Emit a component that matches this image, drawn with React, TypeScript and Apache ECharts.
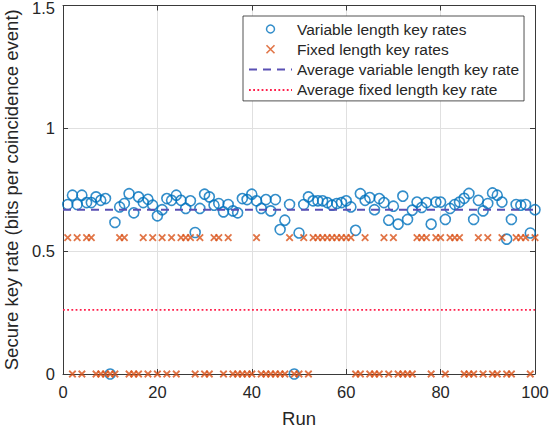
import React, { useEffect, useRef } from "react";
import * as echarts from "echarts";

// ---- Data ----
const runs = [
  1, 2, 3, 4, 5, 6, 7, 8, 9, 10,
  11, 12, 13, 14, 15, 16, 17, 18, 19, 20,
  21, 22, 23, 24, 25, 26, 27, 28, 29, 30,
  31, 32, 33, 34, 35, 36, 37, 38, 39, 40,
  41, 42, 43, 44, 45, 46, 47, 48, 49, 50,
  51, 52, 53, 54, 55, 56, 57, 58, 59, 60,
  61, 62, 63, 64, 65, 66, 67, 68, 69, 70,
  71, 72, 73, 74, 75, 76, 77, 78, 79, 80,
  81, 82, 83, 84, 85, 86, 87, 88, 89, 90,
  91, 92, 93, 94, 95, 96, 97, 98, 99, 100,
];

const variableRates = [
  0.690, 0.728, 0.690, 0.728, 0.698, 0.698, 0.721, 0.707, 0.714, 0,
  0.617, 0.680, 0.694, 0.734, 0.656, 0.721, 0.698, 0.711, 0.687, 0.644,
  0.669, 0.714, 0.707, 0.728, 0.707, 0.674, 0.705, 0.576, 0.674, 0.732,
  0.721, 0.687, 0.694, 0.660, 0.690, 0.664, 0.656, 0.714, 0.710, 0.732,
  0.705, 0.674, 0.710, 0.664, 0.710, 0.588, 0.626, 0.690, 0, 0.574,
  0.690, 0.721, 0.705, 0.705, 0.705, 0.698, 0.687, 0.694, 0.698, 0.705,
  0.680, 0.585, 0.734, 0.707, 0.718, 0.669, 0.714, 0.698, 0.626, 0.683,
  0.610, 0.724, 0.629, 0.667, 0.700, 0.678, 0.698, 0.610, 0.700, 0.700,
  0.629, 0.674, 0.690, 0.700, 0.715, 0.735, 0.629, 0.707, 0.664, 0.694,
  0.737, 0.728, 0.700, 0.549, 0.629, 0.690, 0.687, 0.690, 0.574, 0.669,
];

const fixedRates = [
  0.555, 0, 0.555, 0, 0.555, 0.555, 0, 0, 0, 0,
  0, 0.555, 0.555, 0, 0, 0, 0.555, 0, 0.555, 0,
  0.555, 0, 0.555, 0, 0.555, 0.555, 0.555, 0, 0.555, 0,
  0, 0.555, 0.555, 0, 0.555, 0, 0, 0, 0, 0,
  0.555, 0, 0, 0, 0, 0, 0, 0.555, 0, 0,
  0.555, 0, 0.555, 0.555, 0.555, 0.555, 0.555, 0.555, 0.555, 0.555,
  0.555, 0, 0, 0.555, 0, 0, 0, 0.555, 0, 0.555,
  0, 0, 0, 0, 0.555, 0.555, 0.555, 0, 0.555, 0.555,
  0, 0.555, 0.555, 0.555, 0, 0, 0, 0.555, 0, 0.555,
  0, 0, 0.555, 0, 0, 0.555, 0.555, 0.555, 0, 0.555,
];

const avgRange = [0, 100];
const avgVariableRate = 0.669;
const avgFixedRate = 0.261;

const seriesNames = [
  "Variable length key rates",
  "Fixed length key rates",
  "Average variable length key rate",
  "Average fixed length key rate",
];

const FONT = "'Liberation Sans', Arial, Helvetica, sans-serif";
const TEXT = "#262626";
const AXIS = "#3a3a3a";
const BLUE = "#0072BD";
const ORANGE = "#D95319";
const PURPLE = "#5a50b4";
const RED = "#ff1f4b";
const CROSS = "path://M0,0L10,10M10,0L0,10";
const HIDDEN = { color: "rgba(0,0,0,0)", borderColor: "rgba(0,0,0,0)", borderWidth: 0, opacity: 0 };
const Y_MAX = 1.5;

export default function App() {
  const ref = useRef<HTMLDivElement>(null);

  useEffect(() => {
    if (!ref.current) return;
    const chart = echarts.init(ref.current, undefined, { renderer: "svg" });

    const varData = runs.map((r, i) => [r, variableRates[i]]);
    const fixData = runs.map((r, i) => [r, fixedRates[i]]);
    const avgVarData = avgRange.map((x) => [x, avgVariableRate]);
    const avgFixData = avgRange.map((x) => [x, avgFixedRate]);

    const mirrorX = {
      type: "value",
      min: 0,
      max: 100,
      interval: 20,
      position: "top",
      axisLine: { show: true, onZero: false, lineStyle: { color: AXIS, width: 1 } },
      axisTick: { show: true, inside: true, length: 5, lineStyle: { color: AXIS } },
      axisLabel: { show: false },
      splitLine: { show: false },
    };
    const mirrorY = {
      type: "value",
      min: 0,
      max: Y_MAX,
      interval: 0.5,
      position: "right",
      axisLine: { show: true, onZero: false, lineStyle: { color: AXIS, width: 1 } },
      axisTick: { show: true, inside: true, length: 5, lineStyle: { color: AXIS } },
      axisLabel: { show: false },
      splitLine: { show: false },
    };

    chart.setOption({
      animation: false,
      backgroundColor: "#ffffff",
      textStyle: { fontFamily: FONT },
      grid: {
        left: 63,
        right: 17,
        top: 5.5,
        bottom: 58,
        containLabel: false,
        outerBoundsMode: "none",
      },
      xAxis: [
        {
          type: "value",
          min: 0,
          max: 100,
          interval: 20,
          position: "bottom",
          name: "Run",
          nameLocation: "middle",
          nameGap: 35,
          nameTextStyle: { fontSize: 18.5, color: TEXT, fontFamily: FONT },
          axisLine: { show: true, onZero: false, lineStyle: { color: AXIS, width: 1 } },
          axisTick: { show: true, inside: true, length: 5, lineStyle: { color: AXIS } },
          axisLabel: { fontSize: 16.5, color: TEXT, margin: 9, fontFamily: FONT },
          splitLine: { show: true, lineStyle: { color: "#e0e0e0", width: 1 } },
        },
        mirrorX,
      ],
      yAxis: [
        {
          type: "value",
          min: 0,
          max: Y_MAX,
          interval: 0.5,
          position: "left",
          name: "Secure key rate (bits per coincidence event)",
          nameLocation: "middle",
          nameGap: 32,
          nameTextStyle: { fontSize: 18.5, color: TEXT, fontFamily: FONT },
          axisLine: { show: true, onZero: false, lineStyle: { color: AXIS, width: 1 } },
          axisTick: { show: true, inside: true, length: 5, lineStyle: { color: AXIS } },
          axisLabel: {
            fontSize: 16.5,
            lineHeight: 13,
            color: TEXT,
            margin: 8,
            fontFamily: FONT,
            formatter: (v: number) => (v === Y_MAX ? `{top|${v}}` : `${v}`),
            rich: {
              top: {
                fontSize: 16.5,
                lineHeight: 13,
                color: TEXT,
                fontFamily: FONT,
                padding: [4, 0, 0, 0],
              },
            },
          },
          splitLine: { show: true, lineStyle: { color: "#e0e0e0", width: 1 } },
        },
        mirrorY,
      ],
      legend: {
        orient: "vertical",
        left: 243,
        top: 16,
        padding: [5, 5, 3, 5],
        itemWidth: 43,
        itemHeight: 8,
        itemGap: 4.3,
        backgroundColor: "#ffffff",
        borderColor: TEXT,
        borderWidth: 0.8,
        borderRadius: 0,
        textStyle: { fontSize: 15.5, color: TEXT, fontFamily: FONT },
        data: [
          {
            name: seriesNames[0],
            icon: "circle",
            itemStyle: { color: "rgba(0,0,0,0)", borderColor: BLUE, borderWidth: 1.5 },
          },
          {
            name: seriesNames[1],
            icon: CROSS,
            itemStyle: { color: "rgba(0,0,0,0)", borderColor: ORANGE, borderWidth: 1.6 },
          },
          { name: seriesNames[2], itemStyle: HIDDEN },
          { name: seriesNames[3], itemStyle: HIDDEN },
        ],
      },
      series: [
        {
          name: seriesNames[0],
          type: "scatter",
          data: varData,
          symbol: "circle",
          symbolSize: 10,
          itemStyle: { color: "rgba(0,0,0,0)", borderColor: BLUE, borderWidth: 1.6 },
          z: 3,
        },
        {
          name: seriesNames[1],
          type: "scatter",
          data: fixData,
          symbol: CROSS,
          symbolSize: 6.5,
          itemStyle: { color: "rgba(0,0,0,0)", borderColor: ORANGE, borderWidth: 1.8 },
          z: 4,
        },
        {
          name: seriesNames[2],
          type: "line",
          data: avgVarData,
          symbol: "none",
          showSymbol: false,
          lineStyle: { color: PURPLE, width: 2, type: [8, 6] },
          itemStyle: { color: PURPLE },
          z: 5,
        },
        {
          name: seriesNames[3],
          type: "line",
          data: avgFixData,
          symbol: "none",
          showSymbol: false,
          lineStyle: { color: RED, width: 1.8, type: [1.8, 2.4] },
          itemStyle: { color: RED },
          z: 5,
        },
      ],
    });

    return () => chart.dispose();
  }, []);

  return (
    <div
      ref={ref}
      style={{ position: "absolute", left: 0, top: 0, width: 552, height: 432 }}
    />
  );
}
